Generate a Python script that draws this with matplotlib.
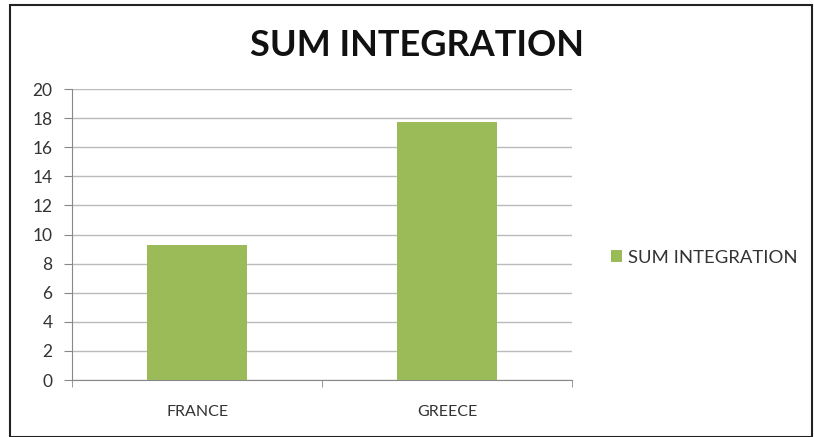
import matplotlib.pyplot as plt
from matplotlib.patches import Rectangle

countries = ["FRANCE", "GREECE"]
sum_integration = [9.3, 17.7]
y_ticks = [0, 2, 4, 6, 8, 10, 12, 14, 16, 18, 20]

plt.rcParams['font.family'] = ['Lato', 'DejaVu Sans']

fig = plt.figure(figsize=(8.14, 4.37), dpi=100)
ax = fig.add_axes([0.0885, 0.1304, 0.6145, 0.6659])

x = range(len(countries))
ax.bar(x, sum_integration, width=0.4, color="#9BBB59", label="SUM INTEGRATION", zorder=3)

ax.set_xlim(-0.5, len(countries) - 0.5)
ax.set_ylim(0, 20)
ax.set_yticks(y_ticks)
ax.set_xticks(list(x))
ax.set_xticklabels(countries, fontsize=11.5, color="#333333")
ax.tick_params(axis='y', labelsize=12.5, colors="#333333", length=6, color="#888888", pad=8)
ax.tick_params(axis='x', length=0, pad=18)
# category boundary ticks on the x axis
ax.set_xticks([-0.5, 0.5, 1.5], minor=True)
ax.tick_params(axis='x', which='minor', length=5, color="#888888")

ax.grid(axis='y', color="#bbbbbb", linewidth=1, zorder=0)
for side in ['top', 'right']:
    ax.spines[side].set_visible(False)
for side in ['left', 'bottom']:
    ax.spines[side].set_color("#888888")

fig.text(0.512, 0.895, "SUM INTEGRATION", ha='center', va='center',
         fontsize=26, fontweight='bold', color="#111111")

ax.legend(loc='center left', bbox_to_anchor=(1.045, 0.42), frameon=False,
          fontsize=13.3, handlelength=0.6, handleheight=0.6, handletextpad=0.3,
          labelcolor="#333333")

# outer frame
fig.patches.append(Rectangle((0.012, 0.0), 0.986, 0.988, transform=fig.transFigure,
                             fill=False, edgecolor="#222222", linewidth=1.5))

fig.savefig("out.png", dpi=100)
